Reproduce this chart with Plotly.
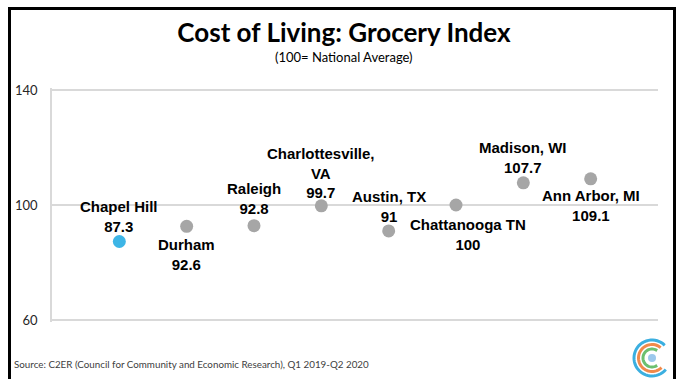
import numpy as np
import plotly.graph_objects as go

# ---- data ----
cities = ["Chapel Hill", "Durham", "Raleigh", "Charlottesville, VA", "Austin, TX",
          "Chattanooga TN", "Madison, WI", "Ann Arbor, MI"]
label_names = ["Chapel Hill", "Durham", "Raleigh", "Charlottesville,<br>VA", "Austin, TX",
               "Chattanooga TN", "Madison, WI", "Ann Arbor, MI"]
grocery_index = [87.3, 92.6, 92.8, 99.7, 91, 100, 107.7, 109.1]
y_ticks = [60, 100, 140]

# ---- style ----
point_colors = ["#3DB5E6"] + ["#A6A6A6"] * 7
label_xshift = [0, 0, 0, 0, 0, 12, 0, 0]
label_yshift = [25, -28, 27, 33, 24, -29, 25, -27]

W, H = 683, 379
L, R, T, B = 52, 658, 88, 322


def px(x):
    return (x - L) / (R - L)


def py(y):
    return (B - y) / (B - T)


fig = go.Figure()
fig.add_trace(go.Scatter(
    x=cities, y=grocery_index, mode="markers",
    marker=dict(size=13, color=point_colors, line=dict(width=0)),
    hoverinfo="x+y", showlegend=False,
))

for c, n, v, xs, ys in zip(cities, label_names, grocery_index, label_xshift, label_yshift):
    fig.add_annotation(
        x=c, y=v, xref="x", yref="y", text=f"<b>{n}<br>{v:g}</b>", showarrow=False,
        xanchor="center", yanchor="middle", xshift=xs, yshift=ys,
        font=dict(family="Liberation Sans, Arial", size=15, color="#000000"),
        align="center",
    )

# subtitle
fig.add_annotation(
    x=px(344), y=py(57), xref="paper", yref="paper", text="(100= National Average)",
    showarrow=False, xanchor="center", yanchor="middle",
    font=dict(family="Lato", size=13, color="#000000"),
)
# source
fig.add_annotation(
    x=px(12), y=py(364), xref="paper", yref="paper",
    text="Source: C2ER (Council for Community and Economic Research), Q1 2019-Q2 2020",
    showarrow=False, xanchor="left", yanchor="middle",
    font=dict(family="Lato", size=9.8, color="#404040"),
)

shapes = []
# outer frame
shapes.append(dict(type="path", xref="paper", yref="paper",
                   path=f"M {px(9.5)},{py(420)} L {px(9.5)},{py(8.5)} L {px(674.5)},{py(8.5)} L {px(674.5)},{py(420)}",
                   line=dict(color="#000000", width=3)))

# logo (concentric C arcs)
cx, cy = 652, 358
for r, col, a0, a1 in [(18, "#3BAFE0", 45, 320), (13.5, "#F08A4B", 50, 315), (9, "#6CC070", 55, 305)]:
    ang = np.radians(np.linspace(a0, a1, 40))
    xs = cx + r * np.cos(ang)
    ys = cy - r * np.sin(ang)
    path = "M " + " L ".join(f"{px(a)},{py(b)}" for a, b in zip(xs, ys))
    shapes.append(dict(type="path", xref="paper", yref="paper", path=path,
                       line=dict(color=col, width=3)))
shapes.append(dict(type="circle", xref="paper", yref="paper",
                   x0=px(cx - 4), x1=px(cx + 4), y0=py(cy + 4), y1=py(cy - 4),
                   fillcolor="#9CC8EC", line=dict(width=0)))

fig.update_layout(
    width=W, height=H,
    margin=dict(l=L, r=W - R, t=T, b=H - B),
    paper_bgcolor="white", plot_bgcolor="white",
    title=dict(text="<b>Cost of Living: Grocery Index</b>", x=344 / W, xref="container",
               xanchor="center", y=1 - 33 / H, yref="container", yanchor="middle",
               font=dict(family="Lato", size=26, color="#000000")),
    shapes=shapes,
    showlegend=False,
)
fig.update_xaxes(range=[-1, 8], showticklabels=False, showgrid=False, zeroline=False,
                 showline=False, ticks="", type="category")
fig.update_yaxes(range=[60 - 2 / 2.875, 140 + 2 / 2.875], tickvals=y_ticks, showgrid=True,
                 gridcolor="#D9D9D9", gridwidth=1.5, zeroline=False, showline=True,
                 linecolor="#D9D9D9", linewidth=1.5,
                 ticks="", ticklabelstandoff=10,
                 tickfont=dict(family="Lato", size=13, color="#262626"))

fig.write_html("out.html", config={"displayModeBar": False},
               post_script="document.body.style.margin='0';document.body.style.overflow='hidden';")
